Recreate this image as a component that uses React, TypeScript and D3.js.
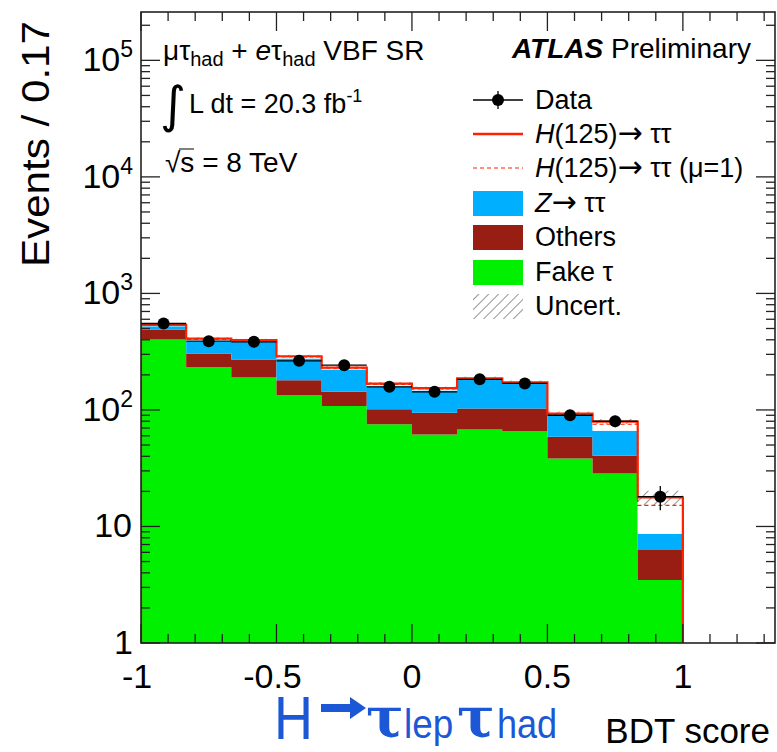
import React from "react";
import * as d3 from "d3";

// BDT score bin edges (12 bins of width ~0.17)
const binEdges = [-1, -0.8333, -0.6667, -0.5, -0.3333, -0.1667, 0, 0.1667, 0.3333, 0.5, 0.6667, 0.8333, 1];

// Stacked background expectations per bin
const fakeTau = [402, 234, 190, 134, 108, 75.5, 61.6, 68, 65.8, 38.4, 28.5, 3.47];
const others = [88, 71, 81, 46, 35, 26, 33, 35, 37, 20.4, 11.9, 2.8];
const ztautau = [33, 84, 113, 97, 79, 58, 52, 80, 66, 30, 26, 2.4];
// Signal H(125)->tautau, fitted and at mu = 1
const signalFit = [14, 21, 13, 12, 9, 9, 7, 4, 4, 4, 13, 9.1];
const signalMu1 = [10, 15, 9, 8, 6, 6, 5, 3, 3, 3, 9, 6.5];
// Total uncertainty (absolute) on the prediction
const uncert = [14, 11, 11, 8, 7, 5, 5, 6, 6, 4, 4, 2.5];
// Observed data
const dataCounts = [552, 389, 384, 264, 242, 158, 143, 183, 169, 90, 80, 18];

const xTickLabels = ["-1", "-0.5", "0", "0.5", "1"];
const xMajorTicks = [-1, -0.5, 0, 0.5, 1];
const yDecades = [1, 10, 100, 1000, 10000, 100000];

const W = 777;
const H = 752;
const frame = { left: 141, right: 775, top: 12, bottom: 643 };
const xDomain: [number, number] = [-1, 1.34];
const yDomain: [number, number] = [1, 2.6e5];

const FONT = "'Liberation Sans', Arial, Helvetica, sans-serif";
const ARROW_FONT = "'DejaVu Sans', sans-serif";
const C = {
  fake: "#00f000",
  others: "#981e14",
  ztt: "#00b0ff",
  red: "#ff2200",
  hatch: "#7a7a7a",
  blue: "#1c58d6",
};

export default function App() {
  const x = d3.scaleLinear().domain(xDomain).range([frame.left, frame.right]);
  const y = d3.scaleLog().domain(yDomain).range([frame.bottom, frame.top]).clamp(true);

  const nBins = dataCounts.length;
  const rows = d3.range(nBins).map((i) => ({
    fake: fakeTau[i],
    others: others[i],
    ztt: ztautau[i],
    sig: signalFit[i],
  }));
  const stack = d3.stack<any>().keys(["fake", "others", "ztt", "sig"])(rows);

  // step-shaped area for one stacked layer
  const stepArea = (layer: d3.Series<any, string>) => {
    const pts: { x: number; y0: number; y1: number }[] = [];
    layer.forEach((d, i) => {
      const lo = Math.max(d[0], yDomain[0]);
      pts.push({ x: binEdges[i], y0: lo, y1: d[1] });
      pts.push({ x: binEdges[i + 1], y0: lo, y1: d[1] });
    });
    return d3
      .area<{ x: number; y0: number; y1: number }>()
      .x((p) => x(p.x))
      .y0((p) => y(p.y0))
      .y1((p) => y(p.y1))(pts) as string;
  };

  // closed step outline from the axis floor through the bin tops and back down
  const stepOutline = (vals: number[]) => {
    const pts: [number, number][] = [[x(binEdges[0]), y(yDomain[0])]];
    vals.forEach((v, i) => {
      pts.push([x(binEdges[i]), y(v)]);
      pts.push([x(binEdges[i + 1]), y(v)]);
    });
    pts.push([x(binEdges[nBins]), y(yDomain[0])]);
    return d3.line()(pts) as string;
  };

  const bkgTotal = d3.range(nBins).map((i) => fakeTau[i] + others[i] + ztautau[i]);
  const totalFit = bkgTotal.map((b, i) => b + signalFit[i]);
  const totalMu1 = bkgTotal.map((b, i) => b + signalMu1[i]);

  const layerFill = [C.fake, C.others, C.ztt, "#ffffff"];

  // ticks
  const xMinor = d3.range(-10, 14).map((k) => k / 10).filter((v) => !xMajorTicks.some((m) => Math.abs(m - v) < 1e-6));
  const yMinor: number[] = [];
  yDecades.forEach((d) => {
    for (let m = 2; m <= 9; m++) if (d * m <= yDomain[1]) yMinor.push(d * m);
  });

  const majLen = 19;
  const minLen = 9;

  const legendX0 = 473;
  const legendX1 = 523;
  const legendTextX = 535;
  const legendRows = [100, 134, 168, 203, 237, 272, 306];

  return (
    <svg width={W} height={H} style={{ display: "block", position: "absolute", left: 0, top: 0 }} fontFamily={FONT}>
      <defs>
        <pattern id="hatch" patternUnits="userSpaceOnUse" width="7" height="7" patternTransform="rotate(45)">
          <line x1="0" y1="0" x2="0" y2="7" stroke={C.hatch} strokeWidth="1.6" />
        </pattern>
        <clipPath id="plotClip">
          <rect x={frame.left} y={frame.top} width={frame.right - frame.left} height={frame.bottom - frame.top} />
        </clipPath>
      </defs>
      <rect x={0} y={0} width={W} height={H} fill="#fff" />

      <g clipPath="url(#plotClip)">
        {stack.map((layer, k) => (
          <path key={k} d={stepArea(layer)} fill={layerFill[k]} stroke="none" />
        ))}
        {/* uncertainty band */}
        {totalFit.map((t, i) => (
          <rect
            key={i}
            x={x(binEdges[i])}
            width={x(binEdges[i + 1]) - x(binEdges[i])}
            y={y(t + uncert[i])}
            height={y(t - uncert[i]) - y(t + uncert[i])}
            fill="url(#hatch)"
          />
        ))}
        <path d={stepOutline(totalMu1)} fill="none" stroke={C.red} strokeWidth={1.2} strokeDasharray="4 3" />
        <path d={stepOutline(totalFit)} fill="none" stroke={C.red} strokeWidth={2.2} />

        {/* data */}
        {dataCounts.map((n, i) => {
          const cx = x((binEdges[i] + binEdges[i + 1]) / 2);
          const cy = y(n);
          const e = Math.sqrt(n);
          return (
            <g key={i}>
              <line x1={x(binEdges[i])} x2={x(binEdges[i + 1])} y1={cy} y2={cy} stroke="#000" strokeWidth={1.3} />
              <line x1={cx} x2={cx} y1={y(n + e)} y2={y(n - e)} stroke="#000" strokeWidth={1.3} />
              <circle cx={cx} cy={cy} r={6} fill="#000" />
            </g>
          );
        })}
      </g>

      {/* frame */}
      <rect
        x={frame.left}
        y={frame.top}
        width={frame.right - frame.left}
        height={frame.bottom - frame.top}
        fill="none"
        stroke="#222"
        strokeWidth={1.6}
      />

      {/* x ticks, bottom and top */}
      {xMajorTicks.map((v) => (
        <g key={"xm" + v}>
          <line x1={x(v)} x2={x(v)} y1={frame.bottom} y2={frame.bottom - majLen} stroke="#222" strokeWidth={1.3} />
          <line x1={x(v)} x2={x(v)} y1={frame.top} y2={frame.top + majLen} stroke="#222" strokeWidth={1.3} />
        </g>
      ))}
      {xMinor.map((v) => (
        <g key={"xn" + v}>
          <line x1={x(v)} x2={x(v)} y1={frame.bottom} y2={frame.bottom - minLen} stroke="#222" strokeWidth={1.3} />
          <line x1={x(v)} x2={x(v)} y1={frame.top} y2={frame.top + minLen} stroke="#222" strokeWidth={1.3} />
        </g>
      ))}
      {/* y ticks, left and right */}
      {yDecades.map((v) => (
        <g key={"ym" + v}>
          <line x1={frame.left} x2={frame.left + majLen} y1={y(v)} y2={y(v)} stroke="#222" strokeWidth={1.3} />
          <line x1={frame.right} x2={frame.right - majLen} y1={y(v)} y2={y(v)} stroke="#222" strokeWidth={1.3} />
        </g>
      ))}
      {yMinor.map((v) => (
        <g key={"yn" + v}>
          <line x1={frame.left} x2={frame.left + minLen} y1={y(v)} y2={y(v)} stroke="#222" strokeWidth={1.3} />
          <line x1={frame.right} x2={frame.right - minLen} y1={y(v)} y2={y(v)} stroke="#222" strokeWidth={1.3} />
        </g>
      ))}

      {/* x tick labels */}
      {xMajorTicks.map((v, i) => (
        <text key={"xl" + v} x={x(v) - (v < 0 ? 4 : 0)} y={688} fontSize={34} textAnchor="middle" fill="#000">
          {xTickLabels[i]}
        </text>
      ))}
      {/* y tick labels */}
      {yDecades.map((v) => {
        const p = Math.round(Math.log10(v));
        const yy = y(v) + 11;
        if (p === 0)
          return (
            <text key="y0" x={133} y={654} fontSize={34} textAnchor="end">
              1
            </text>
          );
        if (p === 1)
          return (
            <text key="y1" x={132} y={yy} fontSize={34} textAnchor="end">
              10
            </text>
          );
        return (
          <text key={"y" + p} x={133} y={yy} fontSize={34} textAnchor="end">
            10<tspan dy={-14} fontSize={23}>{p}</tspan>
          </text>
        );
      })}

      {/* axis titles */}
      <text
        transform="translate(49,21) rotate(-90)"
        fontSize={39}
        textAnchor="end"
        textLength={246}
        lengthAdjust="spacingAndGlyphs"
      >
        Events / 0.17
      </text>
      <text x={770} y={743} fontSize={35} textAnchor="end">
        BDT score
      </text>

      {/* channel label */}
      <g fill={C.blue}>
        <text x={274} y={739} fontSize={62} transform="translate(274,0) scale(0.87,1) translate(-274,0)" fontFamily={FONT}>
          H
        </text>
        <path d="M321,704 L350,704 L350,697 L366,708 L350,719 L350,712 L321,712 Z" />
        <text x={366} y={737} fontSize={56} fontWeight="bold" fontFamily="'DejaVu Serif', serif">
          τ
        </text>
        <text x={404} y={738} fontSize={41} transform="translate(404,0) scale(0.9,1) translate(-404,0)">
          lep
        </text>
        <text x={457} y={737} fontSize={56} fontWeight="bold" fontFamily="'DejaVu Serif', serif">
          τ
        </text>
        <text x={497} y={738} fontSize={41} transform="translate(497,0) scale(0.88,1) translate(-497,0)">
          had
        </text>
      </g>

      {/* region / luminosity labels */}
      <text x={163} y={60} fontSize={28}>
        μτ<tspan dy={6} fontSize={20}>had</tspan>
        <tspan dy={-6}> + </tspan>
        <tspan fontStyle="italic">e</tspan>τ<tspan dy={6} fontSize={20}>had</tspan>
        <tspan dy={-6}> VBF SR</tspan>
      </text>
      <text x={160} y={122} fontSize={50} fontFamily="'DejaVu Sans', sans-serif">
        ∫
      </text>
      <text x={189} y={113} fontSize={27}>
        L dt = 20.3 fb<tspan dy={-11} fontSize={18}>-1</tspan>
      </text>
      <text x={165} y={172} fontSize={28}>
        √s = 8 TeV
      </text>
      <line x1={179} x2={194} y1={149} y2={149} stroke="#000" strokeWidth={1} />

      <text x={751} y={58} fontSize={28} textAnchor="end">
        <tspan fontWeight="bold" fontStyle="italic">ATLAS</tspan> Preliminary
      </text>

      {/* legend */}
      <g fontSize={27}>
        {/* Data */}
        <line x1={legendX0} x2={legendX1} y1={legendRows[0]} y2={legendRows[0]} stroke="#000" strokeWidth={1.3} />
        <line x1={(legendX0 + legendX1) / 2} x2={(legendX0 + legendX1) / 2} y1={legendRows[0] - 9} y2={legendRows[0] + 9} stroke="#000" strokeWidth={1.3} />
        <circle cx={(legendX0 + legendX1) / 2} cy={legendRows[0]} r={6} fill="#000" />
        <text x={legendTextX} y={legendRows[0] + 9}>Data</text>

        <line x1={legendX0} x2={legendX1} y1={legendRows[1]} y2={legendRows[1]} stroke={C.red} strokeWidth={2.5} />
        <text x={legendTextX} y={legendRows[1] + 9}>
          <tspan fontStyle="italic">H</tspan>(125)<tspan fontFamily={ARROW_FONT} fontSize={30}>→</tspan> ττ
        </text>

        <line x1={legendX0} x2={legendX1} y1={legendRows[2]} y2={legendRows[2]} stroke={C.red} strokeWidth={1.2} strokeDasharray="4 3" />
        <text x={legendTextX} y={legendRows[2] + 9}>
          <tspan fontStyle="italic">H</tspan>(125)<tspan fontFamily={ARROW_FONT} fontSize={30}>→</tspan> ττ (μ=1)
        </text>

        <rect x={legendX0} y={legendRows[3] - 12} width={legendX1 - legendX0} height={25} fill={C.ztt} />
        <text x={legendTextX} y={legendRows[3] + 9}>
          <tspan fontStyle="italic">Z</tspan><tspan fontFamily={ARROW_FONT} fontSize={30}>→</tspan> ττ
        </text>

        <rect x={legendX0} y={legendRows[4] - 12} width={legendX1 - legendX0} height={25} fill={C.others} />
        <text x={legendTextX} y={legendRows[4] + 9}>Others</text>

        <rect x={legendX0} y={legendRows[5] - 12} width={legendX1 - legendX0} height={25} fill={C.fake} />
        <text x={legendTextX} y={legendRows[5] + 9}>Fake τ</text>

        <rect x={legendX0} y={legendRows[6] - 12} width={legendX1 - legendX0} height={25} fill="url(#hatch)" />
        <text x={legendTextX} y={legendRows[6] + 9}>Uncert.</text>
      </g>
    </svg>
  );
}
